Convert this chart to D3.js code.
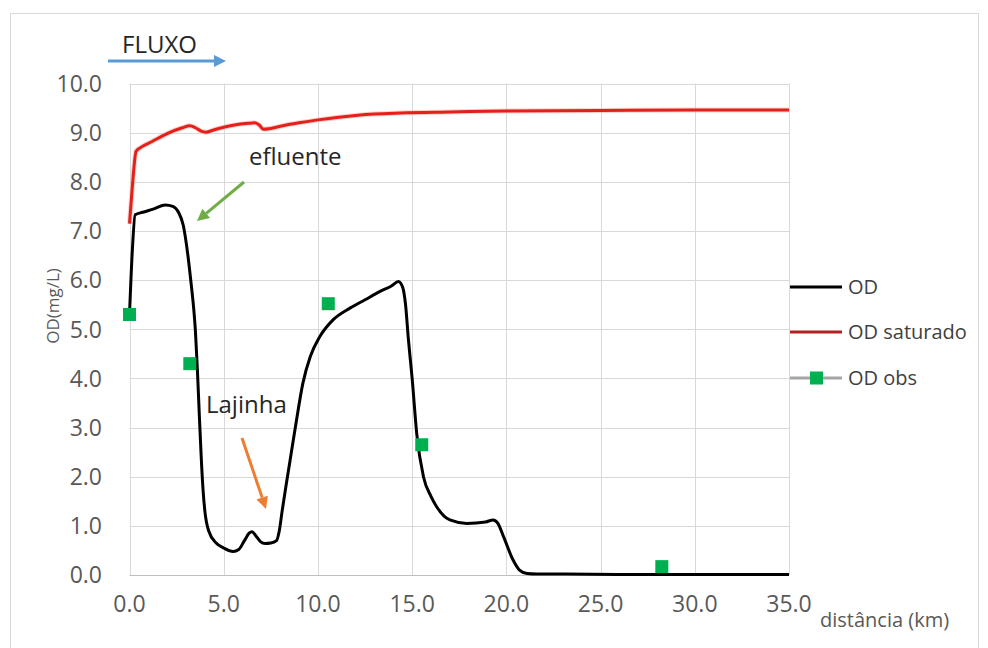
<!DOCTYPE html>
<html><head><meta charset="utf-8">
<script src="https://cdn.jsdelivr.net/npm/d3@7"></script>
<style>html,body{margin:0;padding:0;background:#fff;}svg{display:block;font-family:"Open Sans",sans-serif;}</style>
</head><body>
<svg id="c" width="988" height="648"></svg>
<script>
// ---- data ----
const odX = [0,0.15,0.3,0.7,1.3,1.9,2.3,2.6,2.85,3.1,3.25,3.4,3.5,3.6,3.7,3.8,3.9,4.0,4.2,4.6,5.0,5.5,5.8,6.1,6.35,6.5,6.7,6.95,7.2,7.5,7.8,7.95,8.1,8.3,8.5,8.8,9.2,9.6,10.1,10.8,11.7,12.5,13.3,13.9,14.27,14.5,14.65,14.8,15.0,15.25,15.6,16.0,16.3,17.0,17.9,18.9,19.3,19.55,19.85,20.35,20.7,21.1,21.6,23,26,30,35];
const odY = [5.3,6.6,7.33,7.38,7.45,7.53,7.5,7.38,7.12,6.5,6.0,5.45,4.95,4.2,3.3,2.45,1.75,1.3,0.9,0.65,0.55,0.48,0.52,0.7,0.85,0.88,0.8,0.68,0.64,0.65,0.7,0.9,1.3,1.8,2.28,3.0,3.9,4.45,4.85,5.19,5.43,5.6,5.77,5.88,5.97,5.85,5.5,4.8,4.0,2.85,2.0,1.6,1.39,1.12,1.05,1.08,1.12,1.05,0.78,0.31,0.1,0.03,0.02,0.02,0.01,0.01,0.01];
const satX = [0,0.15,0.35,0.6,1.2,2.0,2.8,3.2,3.5,3.8,4.05,4.5,5.5,6.3,6.65,6.9,7.1,7.4,8.0,9.0,10,11,12,13,14.4,17,20,25,30,35];
const satY = [7.15,7.9,8.62,8.7,8.82,8.98,9.1,9.14,9.1,9.03,9.01,9.06,9.15,9.19,9.2,9.15,9.07,9.08,9.13,9.2,9.26,9.31,9.35,9.38,9.4,9.42,9.44,9.45,9.46,9.46];
const obsX = [0,3.2,10.55,15.51,28.25];
const obsY = [5.3,4.3,5.52,2.65,0.17];
const xTicks = [0,5,10,15,20,25,30,35];
const yTicks = [0,1,2,3,4,5,6,7,8,9,10];
const legendNames = ["OD","OD saturado","OD obs"];

// ---- layout ----
const svg = d3.select("#c");
const L=129.5, R=789, T=83.5, B=575;
const x = d3.scaleLinear().domain([0,35]).range([L,R]);
const y = d3.scaleLinear().domain([0,10]).range([B,T]);

// outer border
svg.append("rect").attr("x",10.5).attr("y",13.5).attr("width",968).attr("height",640)
  .attr("fill","#fff").attr("stroke","#d9d9d9").attr("stroke-width",1);

// gridlines
const g = svg.append("g");
g.selectAll(".hg").data(yTicks).join("line")
  .attr("x1",L).attr("x2",R).attr("y1",d=>Math.round(y(d))+0.5).attr("y2",d=>Math.round(y(d))+0.5)
  .attr("stroke",d=>d===0?"#bfbfbf":"#d9d9d9").attr("stroke-width",1);
g.selectAll(".vg").data(xTicks).join("line")
  .attr("y1",T).attr("y2",B).attr("x1",d=>Math.round(x(d))+0.5).attr("x2",d=>Math.round(x(d))+0.5)
  .attr("stroke","#d9d9d9").attr("stroke-width",1);

// tick labels
svg.append("g").selectAll("text").data(yTicks).join("text")
  .attr("x",102).attr("y",d=>y(d)).attr("dy","0.36em").attr("text-anchor","end")
  .attr("font-size",23).attr("fill","#595959").text(d=>d.toFixed(1));
svg.append("g").selectAll("text").data(xTicks).join("text")
  .attr("x",d=>x(d)).attr("y",604).attr("dy","0.36em").attr("text-anchor","middle")
  .attr("font-size",23).attr("fill","#595959").text(d=>d.toFixed(1));

// axis titles
svg.append("text").attr("transform","translate(59,306) rotate(-90)").attr("text-anchor","middle")
  .attr("font-size",17).attr("fill","#595959").text("OD(mg/L)");
svg.append("text").attr("x",820).attr("y",627).attr("font-size",20).attr("fill","#595959").text("distância (km)");

// lines
const line = d3.line().x(d=>x(d[0])).y(d=>y(d[1])).curve(d3.curveMonotoneX);
const satData = satX.map((v,i)=>[v,satY[i]]);
const odData = odX.map((v,i)=>[v,odY[i]]);
svg.append("path").attr("d",line(satData)).attr("fill","none").attr("stroke","#f7b4a8").attr("stroke-width",5).attr("stroke-opacity",0.6);
svg.append("path").attr("d",line(satData)).attr("fill","none").attr("stroke","#e3201b").attr("stroke-width",3).attr("stroke-linejoin","round");
svg.append("path").attr("d",line(odData)).attr("fill","none").attr("stroke","#000").attr("stroke-width",3).attr("stroke-linejoin","round");

// obs markers
svg.append("g").selectAll("rect").data(obsX.map((v,i)=>[v,obsY[i]])).join("rect")
  .attr("x",d=>x(d[0])-6.5).attr("y",d=>y(d[1])-6.5).attr("width",13).attr("height",13).attr("fill","#00b050");

// legend
const ly = [287,332,378];
const lg = svg.append("g");
lg.append("line").attr("x1",790).attr("x2",842).attr("y1",ly[0]).attr("y2",ly[0]).attr("stroke","#000").attr("stroke-width",3);
lg.append("line").attr("x1",790).attr("x2",842).attr("y1",ly[1]).attr("y2",ly[1]).attr("stroke","#b22222").attr("stroke-width",3);
lg.append("line").attr("x1",790).attr("x2",842).attr("y1",ly[2]).attr("y2",ly[2]).attr("stroke","#a5a5a5").attr("stroke-width",3);
lg.append("rect").attr("x",810).attr("y",ly[2]-6.5).attr("width",13).attr("height",13).attr("fill","#00b050");
lg.selectAll("text").data(legendNames).join("text")
  .attr("x",848).attr("y",(d,i)=>ly[i]).attr("dy","0.36em").attr("font-size",20).attr("fill","#404040").text(d=>d);

// annotations
svg.append("text").attr("x",122).attr("y",53).attr("font-size",24).attr("fill","#262626").text("FLUXO");
function arrow(x1,y1,x2,y2,color,w,hl,hw){
  const a=Math.atan2(y2-y1,x2-x1);
  const bx=x2-hl*Math.cos(a), by=y2-hl*Math.sin(a);
  svg.append("line").attr("x1",x1).attr("y1",y1).attr("x2",bx).attr("y2",by).attr("stroke",color).attr("stroke-width",w);
  const px=-Math.sin(a)*hw, py=Math.cos(a)*hw;
  svg.append("path").attr("d",`M${x2},${y2}L${bx+px},${by+py}L${bx-px},${by-py}Z`).attr("fill",color);
}
arrow(108,61,226,61,"#5b9bd5",3,12,6);
svg.append("text").attr("x",249).attr("y",165).attr("font-size",24).attr("fill","#262626").text("efluente");
arrow(244,182,197,221,"#70ad47",3,12,6);
svg.append("text").attr("x",206).attr("y",413).attr("font-size",24).attr("fill","#262626").text("Lajinha");
arrow(242,438,266,509,"#ed7d31",3,12,6);
</script>
</body></html>
